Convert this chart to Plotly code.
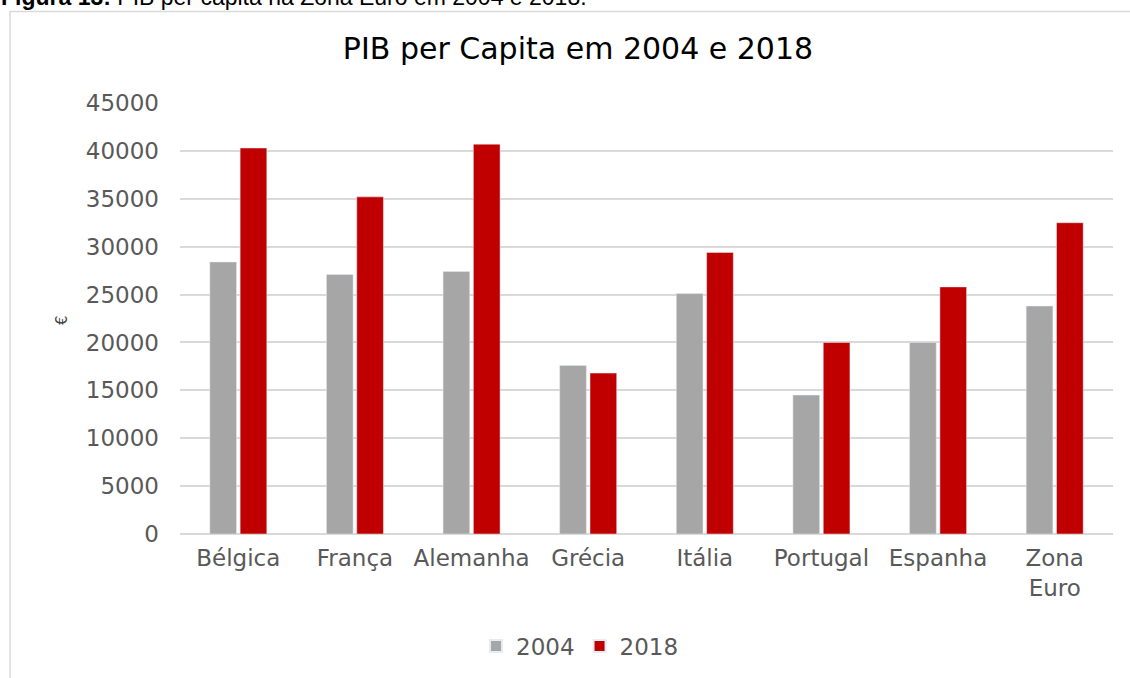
import plotly.graph_objects as go

categories = ["Bélgica", "França", "Alemanha", "Grécia", "Itália", "Portugal", "Espanha", "Zona<br>Euro"]
values_2004 = [28400, 27100, 27400, 17600, 25100, 14500, 20000, 23800]
values_2018 = [40300, 35200, 40700, 16800, 29400, 20000, 25800, 32500]
y_ticks = [0, 5000, 10000, 15000, 20000, 25000, 30000, 35000, 40000, 45000]

W, H = 1130, 678
L, R, T, B = 180, 17, 103, 144
pw = W - L - R
ph = H - T - B


def px_x(p):
    return (p - L) / pw


def px_y(p):
    return (H - B - p) / ph


FONT = "DejaVu Sans"
GREY_TXT = "#595959"

fig = go.Figure()
fig.add_trace(go.Bar(name="2004", x=categories, y=values_2004, marker=dict(color="#a6a6a6")))
fig.add_trace(go.Bar(name="2018", x=categories, y=values_2018, marker=dict(color="#c00000")))

fig.update_layout(
    width=W, height=H,
    margin=dict(l=L, r=R, t=T, b=B, autoexpand=False),
    paper_bgcolor="white", plot_bgcolor="white",
    barmode="group", bargap=0.48, bargroupgap=0.12,
    font=dict(family=FONT, size=23, color=GREY_TXT),
    title=dict(text="PIB per Capita em 2004 e 2018", x=578 / W, xref="container", xanchor="center",
               y=1 - 48 / H, yref="container", yanchor="middle",
               font=dict(family=FONT, size=30, color="#000000")),
    showlegend=True,
    legend=dict(orientation="h", x=px_x(580), xanchor="center", y=px_y(646), yanchor="middle",
                font=dict(family=FONT, size=23, color=GREY_TXT), itemsizing="constant",
                traceorder="normal", itemwidth=30),
    xaxis=dict(showgrid=False, showline=False, zeroline=False, ticks="", tickfont=dict(size=23),
               ticklabelstandoff=8),
    yaxis=dict(range=[0, 45000], tickvals=y_ticks, showgrid=True, gridcolor="#d9d9d9", gridwidth=1.5,
               zeroline=True, zerolinecolor="#d9d9d9", zerolinewidth=1.5, showline=False, ticks="",
               tickfont=dict(size=23), ticklabelstandoff=20, tickformat="d"),
    shapes=[dict(type="rect", xref="paper", yref="paper",
                 x0=px_x(10), x1=px_x(W + 20), y0=px_y(11.5), y1=px_y(H + 20),
                 line=dict(color="#d9d9d9", width=1.5), fillcolor="rgba(0,0,0,0)", layer="below")],
    annotations=[
        dict(text="€", xref="paper", yref="paper", x=px_x(62), y=px_y(320), textangle=-90,
             showarrow=False, xanchor="center", yanchor="middle",
             font=dict(family=FONT, size=15, color="#404040")),
        dict(text="<b>Figura 13:</b> PIB per capita na Zona Euro em 2004 e 2018.", xref="paper", yref="paper",
             x=px_x(-1), y=px_y(12), xanchor="left", yanchor="bottom", showarrow=False,
             font=dict(family="Liberation Sans", size=23, color="#000000")),
    ],
)

fig.write_html("out.html", config={"displayModeBar": False},
               post_script="document.body.style.margin='0px';document.body.style.overflow='hidden';")
